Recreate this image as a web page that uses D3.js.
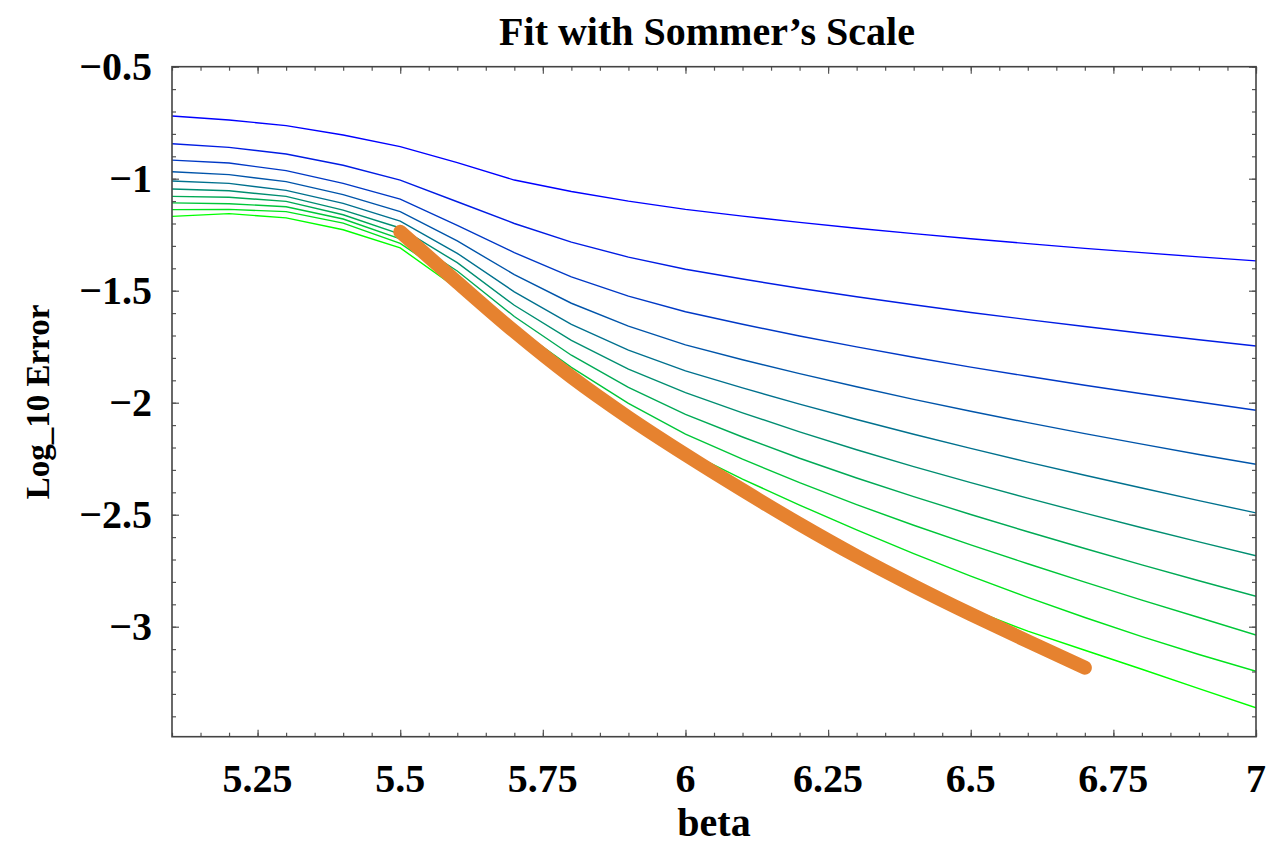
<!DOCTYPE html>
<html><head><meta charset="utf-8">
<script src="https://cdn.jsdelivr.net/npm/d3@7/dist/d3.min.js"></script>
<style>
html,body{margin:0;padding:0;background:#fff;}
svg{display:block;}
text{font-family:"Liberation Serif","Times New Roman",serif;font-weight:bold;fill:#000;}
</style></head>
<body>
<svg id="chart" width="1266" height="848"></svg>
<script>
// ---- data ----
const betas = [5.1,5.2,5.3,5.4,5.5,5.6,5.7,5.8,5.9,6.0,6.1,6.2,6.3,6.4,6.5,6.6,6.7,6.8,6.9,7.0];
const line1  = [-0.720,-0.738,-0.763,-0.805,-0.857,-0.928,-1.006,-1.057,-1.100,-1.137,-1.167,-1.195,-1.221,-1.245,-1.268,-1.290,-1.311,-1.330,-1.349,-1.367];
const line2  = [-0.844,-0.860,-0.890,-0.940,-1.006,-1.103,-1.200,-1.283,-1.350,-1.404,-1.448,-1.489,-1.527,-1.563,-1.597,-1.629,-1.660,-1.690,-1.719,-1.747];
const line3  = [-0.917,-0.930,-0.964,-1.021,-1.091,-1.208,-1.330,-1.438,-1.524,-1.594,-1.650,-1.702,-1.751,-1.797,-1.841,-1.882,-1.922,-1.960,-1.997,-2.034];
const line4  = [-0.969,-0.982,-1.013,-1.071,-1.147,-1.278,-1.428,-1.556,-1.658,-1.742,-1.808,-1.870,-1.929,-1.985,-2.038,-2.089,-2.138,-2.185,-2.231,-2.275];
const line5  = [-1.010,-1.021,-1.052,-1.110,-1.189,-1.333,-1.505,-1.650,-1.765,-1.858,-1.934,-2.006,-2.075,-2.141,-2.204,-2.265,-2.324,-2.381,-2.437,-2.492];
const line6  = [-1.046,-1.054,-1.079,-1.140,-1.220,-1.375,-1.565,-1.722,-1.850,-1.955,-2.045,-2.130,-2.210,-2.285,-2.357,-2.426,-2.493,-2.558,-2.621,-2.683];
const line7  = [-1.079,-1.083,-1.101,-1.161,-1.247,-1.412,-1.615,-1.788,-1.932,-2.052,-2.153,-2.248,-2.336,-2.419,-2.499,-2.576,-2.651,-2.724,-2.795,-2.864];
const line8  = [-1.108,-1.112,-1.125,-1.180,-1.269,-1.440,-1.660,-1.842,-2.003,-2.140,-2.252,-2.357,-2.455,-2.547,-2.635,-2.719,-2.801,-2.881,-2.959,-3.037];
const line9  = [-1.138,-1.137,-1.147,-1.198,-1.289,-1.460,-1.685,-1.880,-2.055,-2.215,-2.341,-2.457,-2.568,-2.674,-2.774,-2.869,-2.959,-3.044,-3.124,-3.199];
const line10 = [-1.168,-1.156,-1.175,-1.228,-1.309,-1.490,-1.705,-1.900,-2.075,-2.235,-2.385,-2.530,-2.668,-2.800,-2.922,-3.020,-3.105,-3.190,-3.276,-3.362];
const fitBetas = [5.5,5.6,5.7,5.8,5.9,6.0,6.1,6.2,6.3,6.4,6.5,6.6,6.7];
const fitValues = [-1.237,-1.462,-1.682,-1.885,-2.066,-2.232,-2.390,-2.542,-2.685,-2.818,-2.944,-3.065,-3.183];
const xTickValues = [5.25,5.5,5.75,6,6.25,6.5,6.75,7];
const xTickLabels = ["5.25","5.5","5.75","6","6.25","6.5","6.75","7"];
const yTickValues = [-0.5,-1,-1.5,-2,-2.5,-3];
const yTickLabels = ["\u22120.5","\u22121","\u22121.5","\u22122","\u22122.5","\u22123"];
const title = "Fit with Sommer\u2019s Scale";
const xLabel = "beta";
const yLabel = "Log_10 Error";

const series = [line1,line2,line3,line4,line5,line6,line7,line8,line9,line10];

// ---- layout ----
const L = 172, R = 1256, T = 66.7, B = 736.7;
const svg = d3.select("#chart");
const x = d3.scaleLinear().domain([5.1, 7]).range([L, R]);
const y = d3.scaleLinear().domain([-0.5, -3.491]).range([T, B]);

const color = i => d3.rgb(0, Math.round(255 * i / 9), Math.round(255 * (1 - i / 9))).toString();

const plot = svg.append("g");
svg.append("clipPath").attr("id","clip").append("rect")
  .attr("x", L).attr("y", T).attr("width", R - L).attr("height", B - T);

const line = d3.line().x(d => x(d[0])).y(d => y(d[1])).curve(d3.curveLinear);

const lg = plot.append("g").attr("clip-path","url(#clip)");
series.forEach((s, i) => {
  lg.append("path")
    .datum(betas.map((b, j) => [b, s[j]]))
    .attr("d", line)
    .attr("fill","none")
    .attr("stroke", color(i))
    .attr("stroke-width", 1.4);
});
lg.append("path")
  .datum(fitBetas.map((b, j) => [b, fitValues[j]]))
  .attr("d", d3.line().x(d => x(d[0])).y(d => y(d[1])).curve(d3.curveMonotoneX))
  .attr("fill","none")
  .attr("stroke","#e6822f")
  .attr("stroke-width", 14)
  .attr("stroke-linecap","round")
  .attr("stroke-linejoin","round");

// ---- frame & ticks ----
const tickColor = "#555";
const xMinor = d3.range(102, 141).map(k => k * 0.05).filter(v => v >= 5.1 - 1e-9 && v <= 7 + 1e-9);
const yMinor = d3.range(5, 35).map(k => -k * 0.1);

const xAxisB = d3.axisBottom(x).tickValues(xMinor).tickSize(-4).tickFormat("");
const xAxisT = d3.axisTop(x).tickValues(xMinor).tickSize(-4).tickFormat("");
const xMajB = d3.axisBottom(x).tickValues(xTickValues).tickSize(-7).tickFormat("");
const xMajT = d3.axisTop(x).tickValues(xTickValues).tickSize(-7).tickFormat("");
const yAxisL = d3.axisLeft(y).tickValues(yMinor).tickSize(-4).tickFormat("");
const yAxisR = d3.axisRight(y).tickValues(yMinor).tickSize(-4).tickFormat("");
const yMajL = d3.axisLeft(y).tickValues(yTickValues).tickSize(-7).tickFormat("");
const yMajR = d3.axisRight(y).tickValues(yTickValues).tickSize(-7).tickFormat("");

function style(g){ g.selectAll("path").remove(); g.selectAll("line").attr("stroke", tickColor).attr("stroke-width",1.2); }
svg.append("g").attr("transform",`translate(0,${B})`).call(xAxisB).call(style);
svg.append("g").attr("transform",`translate(0,${B})`).call(xMajB).call(style);
svg.append("g").attr("transform",`translate(0,${T})`).call(xAxisT).call(style);
svg.append("g").attr("transform",`translate(0,${T})`).call(xMajT).call(style);
svg.append("g").attr("transform",`translate(${L},0)`).call(yAxisL).call(style);
svg.append("g").attr("transform",`translate(${L},0)`).call(yMajL).call(style);
svg.append("g").attr("transform",`translate(${R},0)`).call(yAxisR).call(style);
svg.append("g").attr("transform",`translate(${R},0)`).call(yMajR).call(style);

svg.append("rect").attr("x",L).attr("y",T).attr("width",R-L).attr("height",B-T)
  .attr("fill","none").attr("stroke","#444").attr("stroke-width",1.6);

// tick labels
svg.append("g").selectAll("text").data(xTickValues).join("text")
  .attr("x", d => x(d)).attr("y", 792)
  .attr("text-anchor","middle").attr("font-size",40)
  .text((d,i) => xTickLabels[i]);
svg.append("g").selectAll("text").data(yTickValues).join("text")
  .attr("x", 152).attr("y", d => y(d)).attr("dy","0.33em")
  .attr("text-anchor","end").attr("font-size",40)
  .text((d,i) => yTickLabels[i]);

// titles
svg.append("text").attr("x", 707).attr("y", 45).attr("text-anchor","middle")
  .attr("font-size",40).text(title);
svg.append("text").attr("x", 714).attr("y", 836).attr("text-anchor","middle")
  .attr("font-size",40).text(xLabel);
svg.append("text").attr("transform","translate(49,402) rotate(-90)").attr("text-anchor","middle")
  .attr("font-size",33).text(yLabel);
</script>
</body></html>
